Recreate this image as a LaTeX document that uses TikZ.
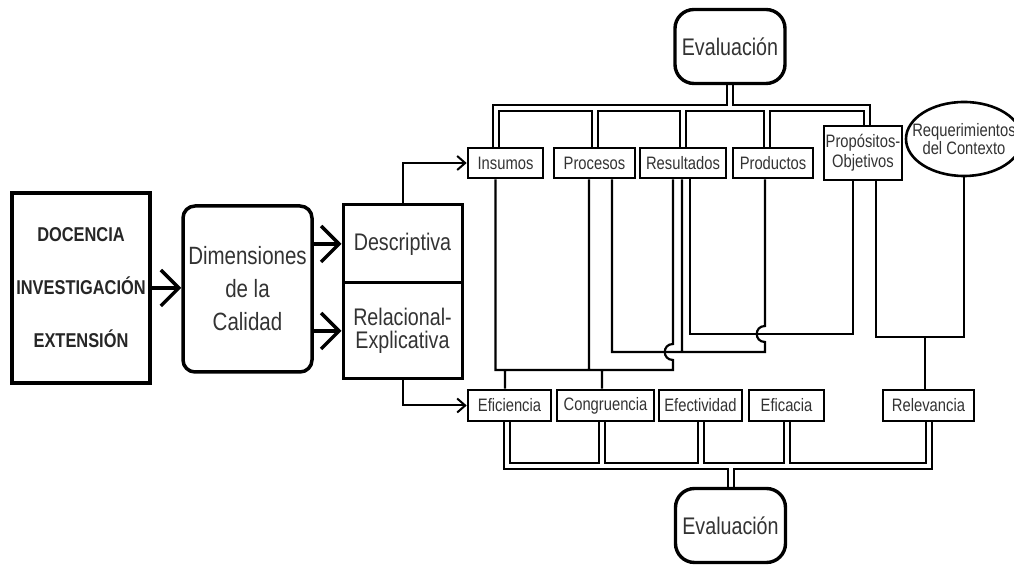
\documentclass[tikz,border=0pt]{standalone}
\usepackage{fontspec}
\setmainfont{Liberation Sans}[FakeStretch=0.82]
\usetikzlibrary{arrows.meta,backgrounds,shapes.geometric}

\begin{document}
\begin{tikzpicture}[x=0.5pt,y=-0.5pt,
		box/.style={draw,line width=1.3pt,fill=white,inner sep=0pt,text=black!80,
			font=\fontsize{9}{10}\selectfont,align=center,minimum height=15pt},
		evalbox/.style={draw,line width=1.7pt,fill=white,rounded corners=9.5pt,text=black!80,
			font=\fontsize{12}{14}\selectfont,minimum width=55pt,minimum height=37pt},
		bigbox/.style={draw,fill=white,inner sep=1pt,align=center,text=black!80},
		bigarrow/.style={line width=1.75pt,-{Straight Barb[length=9pt,width=18pt]}},
		feed/.style={line width=1pt,-{Straight Barb[length=4pt,width=7pt]}},
		link/.style={line width=1.1pt},
		dbl/.style={double,double distance=2pt,line width=1pt}]
			\useasboundingbox (0,0) rectangle (1014,565);
			\node[bigbox,line width=2pt,minimum width=69pt,minimum height=95pt,text=black!85,
				font=\bfseries\fontsize{10}{26.5}\selectfont] (doc) at (81,288) {DOCENCIA\\INVESTIGACIÓN\\EXTENSIÓN};
			\node[bigbox,line width=1.75pt,rounded corners=6pt,minimum width=64.5pt,minimum height=83pt,
				font=\fontsize{12.5}{16.5}\selectfont] (dim) at (247.5,289) {Dimensiones\\de la\\Calidad};
			\node[bigbox,line width=1.5pt,minimum width=59.5pt,minimum height=39pt,
				font=\fontsize{12}{14}\selectfont] (des) at (402.5,244) {Descriptiva};
			\node[bigbox,line width=1.5pt,minimum width=59.5pt,minimum height=48pt,
				font=\fontsize{12}{11.5}\selectfont] (relx) at (402.5,331) {Relacional-\\Explicativa};
			\node[box,minimum width=37.5pt] (ins) at (505.5,163) {Insumos};
			\node[box,minimum width=40.5pt] (proc) at (594.5,163) {Procesos};
			\node[box,minimum width=43pt] (res) at (683,163) {Resultados};
			\node[box,minimum width=40pt] (prod) at (773,163) {Productos};
			\node[box,minimum width=39pt,minimum height=27pt] (prop) at (863,153) {Propósitos-\\Objetivos};
			\node[box,ellipse,minimum width=58pt,minimum height=37pt,inner xsep=-5.35pt,inner ysep=4.3pt,
				font=\fontsize{9}{9}\selectfont] (req) at (964,139) {Requerimientos\\del Contexto};
			\node[box,minimum width=41.5pt,minimum height=15.5pt] (efi) at (509.5,405.5) {Eficiencia};
			\node[box,minimum width=48.5pt,minimum height=15.5pt] (con) at (605.5,405.5) {Congruencia};
			\node[box,minimum width=41.5pt,minimum height=15.5pt] (eff) at (700.5,405.5) {Efectividad};
			\node[box,minimum width=37.5pt,minimum height=15.5pt] (eca) at (786.5,405.5) {Eficacia};
			\node[box,minimum width=45.5pt,minimum height=15.5pt] (rel) at (928.5,405.5) {Relevancia};
			\node[evalbox] (evup) at (730,46.5) {Evaluación};
			\node[evalbox] (evdn) at (730.5,525.5) {Evaluación};
			\coordinate (tb) at (730,108.5);
			\coordinate (bb) at (730.5,466);
			\coordinate (y1) at (0,370);
			\coordinate (y2) at (0,352);
			\coordinate (y3) at (0,334);
			\coordinate (y4) at (0,337);
			\coordinate (t1) at ([xshift=-5pt]ins.north);
			\coordinate (t4) at ([xshift=-3pt]prod.north);
			\coordinate (t5) at ([xshift=1.75pt]prop.north);
			\coordinate (b1) at ([xshift=-1.25pt]efi.south);
			\coordinate (b2) at ([xshift=-2pt]con.south);
			\coordinate (i1) at ([xshift=-5pt]ins.south);
			\coordinate (p1) at ([xshift=-2.75pt]proc.south);
			\coordinate (p2) at ([xshift=8.75pt]proc.south);
			\coordinate (r1) at ([xshift=-5pt]res.south);
			\coordinate (r2) at ([xshift=-0.5pt]res.south);
			\coordinate (r3) at ([xshift=3.5pt]res.south);
			\coordinate (d1) at ([xshift=-4pt]prod.south);
			\coordinate (o1) at ([xshift=-5pt]prop.south);
			\coordinate (o2) at ([xshift=6.5pt]prop.south);
			\coordinate (e1) at ([xshift=-2.25pt]efi.north);
			\coordinate (c1) at ([xshift=-1.75pt]con.north);
			\coordinate (v1) at ([xshift=-1.75pt]rel.north);
			\coordinate (h1) at (r1 |- y2);
			\coordinate (h2) at (d1 |- y3);
			\begin{pgfonlayer}{background}
			\draw [bigarrow] (doc.east) -- (doc.east -| dim.west);
			\draw [bigarrow] (dim.east |- des) -- (des.west);
			\draw [bigarrow] (dim.east |- relx) -- (relx.west);
			\draw [feed] (des.north) |- (ins.west);
			\draw [feed] (relx.south) |- (efi.west);
			\draw [dbl] (evup.south) -- (tb)
				(t1) |- (tb) -| (t5)
				(proc.north) -- (proc.north |- tb)
				(res.north) -- (res.north |- tb)
				(t4) -- (t4 |- tb);
			\draw [dbl] (evdn.north) -- (bb)
				(b1) |- (bb) -| (rel.south)
				(b2) -- (b2 |- bb)
				(eff.south) -- (eff.south |- bb)
				(eca.south) -- (eca.south |- bb);
			\draw [link] (i1) |- (r1 |- y1) -- ([yshift=-4pt]h1) .. controls +(-11,0) and +(-11,0) .. ([yshift=4pt]h1) -- (r1)
				(p1) -- (p1 |- y1)
				(e1) -- (e1 |- y1)
				(c1) -- (c1 |- y1);
			\draw [link] (p2) |- (d1 |- y2) -- ([yshift=-4pt]h2) .. controls +(-11,0) and +(-11,0) .. ([yshift=4pt]h2) -- (d1)
				(r2) -- (r2 |- y2);
			\draw [link] (r3) |- (o1 |- y3) -- (o1);
			\draw [link] (o2) |- (req.south |- y4) -- (req.south)
				(v1) -- (v1 |- y4);
			\end{pgfonlayer}
			\end{tikzpicture}
\end{document}
